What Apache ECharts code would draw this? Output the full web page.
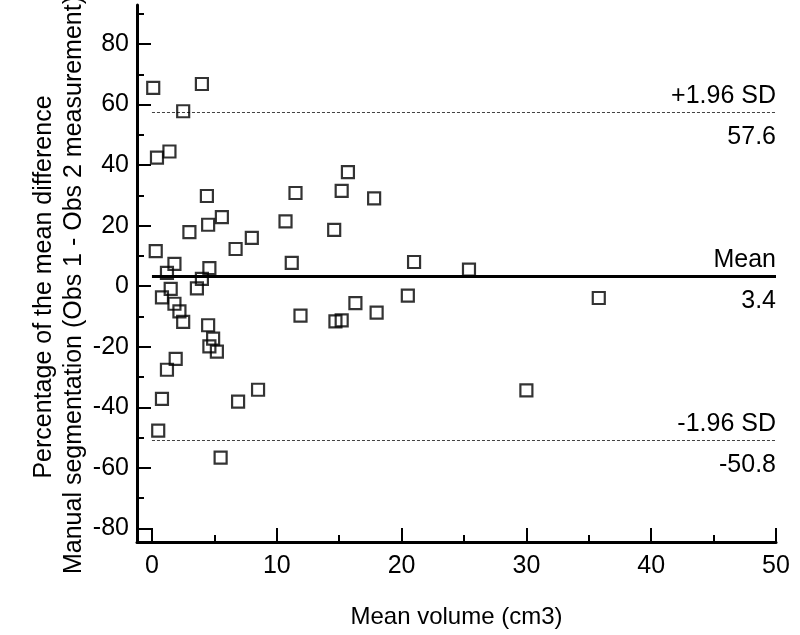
<!DOCTYPE html>
<html>
<head>
<meta charset="utf-8">
<script src="https://cdn.jsdelivr.net/npm/echarts@6/dist/echarts.min.js"></script>
<style>html,body{margin:0;padding:0;background:#fff}#c{width:800px;height:635px}</style>
</head>
<body>
<div id="c"></div>
<script>
const volumes = [0.1, 4.0, 2.5, 0.4, 1.4, 4.4, 3.0, 4.5, 5.6, 0.3, 6.7, 8.0, 10.7, 11.2, 1.8, 1.2, 4.6, 4.0, 3.6, 1.5, 0.8, 1.8, 2.2, 2.5, 4.5, 4.9, 4.6, 5.2, 1.9, 1.2, 0.8, 0.5, 6.9, 8.5, 5.5, 15.7, 11.5, 15.2, 17.8, 14.6, 21.0, 25.4, 20.5, 16.3, 11.9, 18.0, 14.7, 15.2, 35.8, 30.0];
const differences = [65.5, 66.8, 57.8, 42.5, 44.5, 29.8, 17.9, 20.3, 22.8, 11.6, 12.3, 16.0, 21.4, 7.7, 7.4, 4.4, 6.0, 2.4, -0.7, -0.9, -3.7, -5.8, -8.3, -11.8, -12.9, -17.3, -19.9, -21.6, -24.0, -27.6, -37.2, -47.7, -38.1, -34.2, -56.6, 37.7, 30.8, 31.5, 29.0, 18.6, 8.0, 5.5, -3.1, -5.6, -9.7, -8.7, -11.6, -11.3, -3.9, -34.4];
const limitValues = [57.6, 3.4, -50.8];
const limitNames = ['+1.96 SD', 'Mean', '-1.96 SD'];
const limitLabels = ['57.6', '3.4', '-50.8'];
const xMajorTicks = [0, 10, 20, 30, 40, 50];
const xMinorTicks = [5, 15, 25, 35, 45];
const yMajorTicks = [-80, -60, -40, -20, 0, 20, 40, 60, 80];
const yMinorTicks = [-70, -50, -30, -10, 10, 30, 50, 70, 90];
const xTitle = 'Mean volume (cm3)';
const yTitle1 = 'Percentage of the mean difference';
const yTitle2 = 'Manual segmentation (Obs 1 - Obs 2 measurement)';

const FONT = 'Liberation Sans, Arial, sans-serif';
const X_MIN = -1.2, X_MAX = 50, Y_MIN = -84.5, Y_MAX = 92.9;
const LINE_X0 = 0, LINE_X1 = 50;

const chart = echarts.init(document.getElementById('c'), null, {renderer: 'canvas'});

function baseX(extra) {
  return Object.assign({
    type: 'value', min: X_MIN, max: X_MAX, gridIndex: 0, position: 'bottom',
    splitLine: {show: false}
  }, extra);
}
function baseY(extra) {
  return Object.assign({
    type: 'value', min: Y_MIN, max: Y_MAX, gridIndex: 0, position: 'left',
    splitLine: {show: false}
  }, extra);
}

const mlData = [];
limitValues.forEach((v, i) => {
  const isMean = i === 1;
  const ls = isMean ? {color: '#000', width: 3, type: 'solid'} : {color: '#444', width: 1, type: [3, 2]};
  mlData.push([
    {coord: [LINE_X0, v], lineStyle: ls,
     label: {show: true, position: 'insideEndTop', formatter: limitNames[i], color: '#000', fontSize: 25, fontFamily: FONT, distance: [0, 3]}},
    {coord: [LINE_X1, v]}
  ]);
  mlData.push([
    {coord: [LINE_X0, v], lineStyle: ls,
     label: {show: true, position: 'insideEndBottom', formatter: limitLabels[i], color: '#000', fontSize: 25, fontFamily: FONT, distance: [0, 13]}},
    {coord: [LINE_X1, v]}
  ]);
});

const option = {
  backgroundColor: '#fff',
  animation: false,
  grid: {left: 137, right: 24, top: 5, bottom: 93, containLabel: false},
  xAxis: [
    baseX({
      axisLine: {show: true, onZero: false, lineStyle: {color: '#000', width: 3}},
      axisTick: {show: true, inside: true, length: 14, lineStyle: {color: '#000', width: 2}, customValues: xMajorTicks},
      axisLabel: {show: true, customValues: xMajorTicks, color: '#000', fontSize: 25, fontFamily: FONT, margin: 12},
      name: xTitle, nameLocation: 'middle', nameGap: 63,
      nameTextStyle: {color: '#000', fontSize: 24, fontFamily: FONT}
    }),
    baseX({
      axisLine: {show: false, onZero: false},
      axisTick: {show: true, inside: true, length: 7, lineStyle: {color: '#000', width: 2}, customValues: xMinorTicks},
      axisLabel: {show: false}
    })
  ],
  yAxis: [
    baseY({
      axisLine: {show: true, onZero: false, lineStyle: {color: '#000', width: 3}},
      axisTick: {show: true, inside: true, length: 14, lineStyle: {color: '#000', width: 2}, customValues: yMajorTicks},
      axisLabel: {show: true, customValues: yMajorTicks, color: '#000', fontSize: 25, fontFamily: FONT, margin: 8}
    }),
    baseY({
      axisLine: {show: false, onZero: false},
      axisTick: {show: true, inside: true, length: 7, lineStyle: {color: '#000', width: 2}, customValues: yMinorTicks},
      axisLabel: {show: false}
    })
  ],
  graphic: [
    {type: 'text', x: 44, y: 287, rotation: Math.PI / 2,
     style: {text: yTitle1, fill: '#000', font: '25px ' + FONT, textAlign: 'center', textVerticalAlign: 'middle'}},
    {type: 'text', x: 74, y: 285, rotation: Math.PI / 2,
     style: {text: yTitle2, fill: '#000', font: '25px ' + FONT, textAlign: 'center', textVerticalAlign: 'middle'}}
  ],
  series: [{
    type: 'scatter',
    xAxisIndex: 0, yAxisIndex: 0,
    symbol: 'rect', symbolSize: 12,
    itemStyle: {color: 'rgba(0,0,0,0)', borderColor: '#000', borderWidth: 2.2},
    data: volumes.map((v, i) => [v, differences[i]]),
    markLine: {silent: true, symbol: 'none', animation: false, data: mlData},
    z: 5
  }]
};
chart.setOption(option);
</script>
</body>
</html>
